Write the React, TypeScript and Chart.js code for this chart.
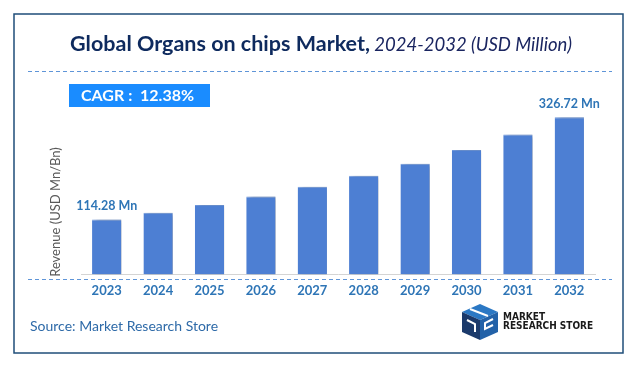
import React, { useEffect, useRef } from "react";
import { Chart, registerables } from "chart.js";

Chart.register(...registerables);

const years: string[] = ["2023", "2024", "2025", "2026", "2027", "2028", "2029", "2030", "2031", "2032"];
const revenue: number[] = [114.28, 128.43, 144.33, 162.2, 182.28, 204.85, 230.21, 258.71, 290.74, 326.72];
const labelledIdx: number[] = [0, 9];
const titleMain = "Global Organs on chips Market,";
const titleSub = " 2024-2032 (USD Million)";
const cagrText = "CAGR :  12.38%";
const yTitle = "Revenue (USD Mn/Bn)";
const sourceText = "Source: Market Research Store";

const FONT = "Lato, 'Open Sans', sans-serif";
const BLUE_TXT = "#2e75b6";

const decorPlugin = {
  id: "decor",
  beforeDraw(chart: any) {
    const ctx = chart.ctx;
    ctx.save();
    ctx.fillStyle = "#ffffff";
    ctx.fillRect(0, 0, chart.width, chart.height);
    // frame
    ctx.strokeStyle = "#1f4e79";
    ctx.lineWidth = 1.5;
    ctx.strokeRect(14, 14, 609, 339);
    // title
    ctx.textBaseline = "middle";
    ctx.font = `bold 21.5px ${FONT}`;
    const w1 = ctx.measureText(titleMain).width;
    ctx.font = `italic 18.5px ${FONT}`;
    const w2 = ctx.measureText(titleSub).width;
    const x0 = 321 - (w1 + w2) / 2;
    ctx.font = `bold 21.5px ${FONT}`;
    ctx.fillStyle = "#0e2a5e";
    ctx.textAlign = "left";
    ctx.fillText(titleMain, x0, 44);
    ctx.font = `italic 18.5px ${FONT}`;
    ctx.fillStyle = "#1a2560";
    ctx.fillText(titleSub, x0 + w1, 45);
    // dashed lines
    ctx.strokeStyle = "#5f95d8";
    ctx.lineWidth = 1;
    ctx.setLineDash([4, 3]);
    ctx.beginPath();
    ctx.moveTo(28, 71.5);
    ctx.lineTo(612, 71.5);
    ctx.moveTo(28, 279.5);
    ctx.lineTo(612, 279.5);
    ctx.stroke();
    ctx.setLineDash([]);
    // CAGR box
    ctx.fillStyle = "#1a8cff";
    ctx.fillRect(69, 84, 141, 23);
    ctx.fillStyle = "#ffffff";
    ctx.font = `bold 16px ${FONT}`;
    ctx.fillText(cagrText, 81, 96);
    // y title
    ctx.save();
    ctx.translate(56, 212);
    ctx.rotate(-Math.PI / 2);
    ctx.textAlign = "center";
    ctx.fillStyle = "#595959";
    ctx.font = `13px ${FONT}`;
    ctx.fillText(yTitle, 0, 0);
    ctx.restore();
    // source
    ctx.textAlign = "left";
    ctx.fillStyle = "#2e6aa8";
    ctx.font = `14px ${FONT}`;
    ctx.fillText(sourceText, 30, 326);
    // logo icon
    const lx = 458, ly = 304;
    ctx.fillStyle = "#2b78c4";
    ctx.beginPath();
    ctx.moveTo(lx + 4, ly + 8);
    ctx.lineTo(lx + 22, ly);
    ctx.lineTo(lx + 40, ly + 8);
    ctx.lineTo(lx + 22, ly + 16);
    ctx.closePath();
    ctx.fill();
    ctx.fillStyle = "#1b3a6b";
    ctx.beginPath();
    ctx.moveTo(lx + 4, ly + 8);
    ctx.lineTo(lx + 22, ly + 16);
    ctx.lineTo(lx + 22, ly + 36);
    ctx.lineTo(lx + 4, ly + 28);
    ctx.closePath();
    ctx.fill();
    ctx.fillStyle = "#2362a8";
    ctx.beginPath();
    ctx.moveTo(lx + 22, ly + 16);
    ctx.lineTo(lx + 40, ly + 8);
    ctx.lineTo(lx + 40, ly + 28);
    ctx.lineTo(lx + 22, ly + 36);
    ctx.closePath();
    ctx.fill();
    ctx.strokeStyle = "#ffffff";
    ctx.lineWidth = 2;
    ctx.beginPath();
    ctx.moveTo(lx + 12, ly + 5);
    ctx.lineTo(lx + 30, ly + 12);
    ctx.moveTo(lx + 9, ly + 16);
    ctx.lineTo(lx + 17, ly + 20);
    ctx.lineTo(lx + 17, ly + 28);
    ctx.moveTo(lx + 35, ly + 15);
    ctx.lineTo(lx + 27, ly + 19);
    ctx.lineTo(lx + 27, ly + 25);
    ctx.lineTo(lx + 35, ly + 21);
    ctx.stroke();
    ctx.fillStyle = "#1a1a1a";
    ctx.font = `bold 10px 'Liberation Sans Narrow', 'DejaVu Sans Condensed', sans-serif`;
    ctx.fillText("MARKET", 503, 317);
    ctx.fillText("RESEARCH STORE", 503, 326);
    ctx.restore();
  },
  beforeDatasetsDraw(chart: any) {
    const ctx = chart.ctx;
    ctx.save();
    ctx.shadowColor = "rgba(0,0,0,0.35)";
    ctx.shadowBlur = 4;
    ctx.shadowOffsetX = 4;
    ctx.shadowOffsetY = 1;
  },
  afterDatasetsDraw(chart: any) {
    const ctx = chart.ctx;
    ctx.restore();
    const meta = chart.getDatasetMeta(0);
    ctx.save();
    ctx.fillStyle = BLUE_TXT;
    ctx.font = `bold 12.5px ${FONT}`;
    ctx.textAlign = "center";
    ctx.textBaseline = "middle";
    labelledIdx.forEach((i) => {
      const el = meta.data[i];
      ctx.fillText(`${revenue[i].toFixed(2)} Mn`, el.x, el.y - 13);
    });
    ctx.restore();
  },
};

export default function App() {
  const ref = useRef<HTMLCanvasElement | null>(null);
  useEffect(() => {
    document.body.style.margin = "0";
    document.body.style.overflow = "hidden";
    const chart = new Chart(ref.current as HTMLCanvasElement, {
      type: "bar",
      data: {
        labels: years,
        datasets: [
          {
            data: revenue,
            backgroundColor: "#4d7fd3",
            borderColor: "#6f98dc",
            borderWidth: { top: 1, left: 0, right: 0, bottom: 0 },
            categoryPercentage: 1,
            barPercentage: 0.57,
          },
        ],
      },
      options: {
        responsive: false,
        animation: false,
        devicePixelRatio: 1,
        layout: { padding: { left: 81, right: 44, top: 82, bottom: 64 } },
        plugins: { legend: { display: false }, tooltip: { enabled: false }, title: { display: false } },
        scales: {
          x: {
            grid: { display: false, drawTicks: false, tickLength: 0 },
            border: { display: true, color: "#d4d4d4", width: 1 },
            ticks: { padding: 9, color: BLUE_TXT, font: { family: FONT, size: 13, weight: "bold" } },
          },
          y: { display: false, min: 0, max: 400 },
        },
      },
      plugins: [decorPlugin],
    });
    return () => chart.destroy();
  }, []);
  return <canvas ref={ref} width={639} height={372} style={{ display: "block" }} />;
}
